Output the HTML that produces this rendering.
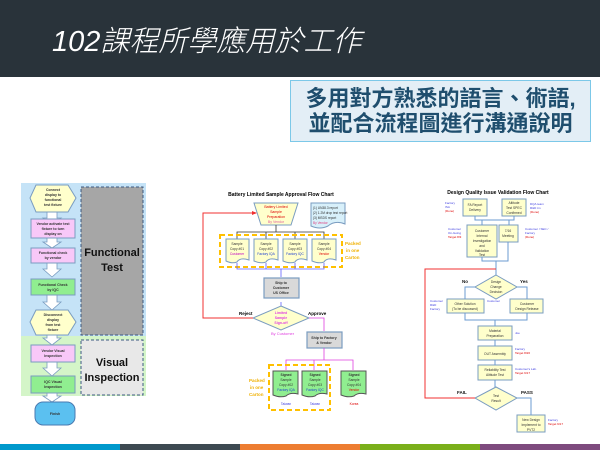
<!DOCTYPE html>
<html><head><meta charset="utf-8"><style>
body{margin:0;width:600px;height:450px;overflow:hidden;background:#fff;position:relative;font-family:"Liberation Sans","Noto Sans CJK TC",sans-serif}
.hdr{position:absolute;left:0;top:0;width:600px;height:77px;background:#29333a}
.title{position:absolute;left:52px;top:18px;color:#fff;font-size:29px;font-style:italic;font-family:"Liberation Sans","Noto Sans CJK TC",sans-serif;font-weight:300;white-space:nowrap}
.call{position:absolute;left:290px;top:80px;width:301px;height:62px;background:#e3eef6;border:1px solid #7cc8e8;box-sizing:border-box;color:#1f4e6e;font-weight:bold;font-size:22px;line-height:25px;text-align:center;padding-top:5px;font-family:"Liberation Sans","Noto Sans CJK TC",sans-serif;white-space:nowrap}
svg{position:absolute;left:0;top:0}
</style></head><body>
<div class="hdr"></div>
<div class="title">102課程所學應用於工作</div>
<div class="call">多用對方熟悉的語言、術語,<br>並配合流程圖進行溝通說明</div>
<svg width="600" height="450" font-family="Liberation Sans, sans-serif">
<rect x="0" y="444" width="120" height="6" fill="#0099cc"/>
<rect x="120" y="444" width="120" height="6" fill="#3d4a52"/>
<rect x="240" y="444" width="120" height="6" fill="#ed7d31"/>
<rect x="360" y="444" width="120" height="6" fill="#7aaf1a"/>
<rect x="480" y="444" width="120" height="6" fill="#7e4b7e"/>

<rect x="21" y="183" width="125" height="153" fill="#c5e3f7"/>
<rect x="21" y="336" width="125" height="60" fill="#d4f5c8"/>
<rect x="81" y="187" width="62" height="148" fill="#a6a6a6" stroke="#3d5a80" stroke-dasharray="3,2"/>
<rect x="81" y="340" width="62" height="55" fill="#e8e8e8" stroke="#3d5a80" stroke-dasharray="3,2"/>
<text x="112" y="256" font-size="11" font-weight="bold" text-anchor="middle" fill="#111">Functional</text>
<text x="112" y="271" font-size="11" font-weight="bold" text-anchor="middle" fill="#111">Test</text>
<text x="112" y="366" font-size="11" font-weight="bold" text-anchor="middle" fill="#111">Visual</text>
<text x="112" y="381" font-size="11" font-weight="bold" text-anchor="middle" fill="#111">Inspection</text>
<g fill="#fff" stroke="#7a9cc0" stroke-width="0.8">
<polygon points="47,212 57,212 57,218 61,218 52,224 43,218 47,218"/>
<polygon points="47,238 57,238 57,242 61,242 52,248 43,242 47,242"/>
<polygon points="47,263 57,263 57,269 61,269 52,277 43,269 47,269"/>
<polygon points="47,295 57,295 57,302 61,302 52,310 43,302 47,302"/>
<polygon points="47,335 57,335 57,338 61,338 52,345 43,338 47,338"/>
<polygon points="47,362 57,362 57,368 61,368 52,376 43,368 47,368"/>
<polygon points="47,393 57,393 57,396 61,396 52,402 43,396 47,396"/>
</g>
<polygon points="36,185 68,185 76,198 68,212 36,212 30,198" fill="#ffffcc" stroke="#7a9cc0"/>
<rect x="31" y="219" width="44" height="19" fill="#f8c8f8" stroke="#7a9cc0"/>
<rect x="31" y="248" width="44" height="15" fill="#f8c8f8" stroke="#7a9cc0"/>
<rect x="31" y="279" width="44" height="16" fill="#90ee90" stroke="#7a9cc0"/>
<polygon points="36,310 68,310 76,322 68,335 36,335 30,322" fill="#ffffcc" stroke="#7a9cc0"/>
<rect x="31" y="345" width="44" height="17" fill="#f8c8f8" stroke="#7a9cc0"/>
<rect x="31" y="376" width="44" height="17" fill="#90ee90" stroke="#7a9cc0"/>
<rect x="35" y="402" width="40" height="23" rx="8" fill="#5bc0f0" stroke="#4a7ab0"/>
<g font-size="3.5" font-weight="bold" text-anchor="middle" fill="#333">
<text x="53" y="191">Connect</text><text x="53" y="196">display to</text><text x="53" y="201">functional</text><text x="53" y="206">test fixture</text>
<text x="53" y="225">Vendor activate test</text><text x="53" y="230">fixture to turn</text><text x="53" y="235">display on</text>
<text x="53" y="254">Functional check</text><text x="53" y="259">by vendor</text>
<text x="53" y="286">Functional Check</text><text x="53" y="291">by IQC</text>
<text x="53" y="316">Disconnect</text><text x="53" y="321">display</text><text x="53" y="326">from test</text><text x="53" y="331">fixture</text>
<text x="53" y="352">Vendor Visual</text><text x="53" y="357">Inspection</text>
<text x="53" y="383">IQC Visual</text><text x="53" y="388">Inspection</text>
<text x="55" y="415">Finish</text>
</g>

<text x="281" y="196" font-size="5" font-weight="bold" text-anchor="middle">Battery Limited Sample Approval Flow Chart</text>
<polygon points="254,203 298,203 291,225 261,225" fill="#ffffcc" stroke="#7a9cc0"/>
<g font-size="3.5" text-anchor="middle"><text x="276" y="208" fill="#d00">Battery Limited</text><text x="276" y="213" fill="#d00">Sample</text><text x="276" y="218" fill="#d00">Preparation</text><text x="276" y="223" fill="#e060a0">By Vendor</text></g>
<path d="M311,203 H345 V224 Q335,220 328,226 Q320,230 311,226 Z" fill="#d8f0fa" stroke="#7a9cc0"/>
<g font-size="3.2" fill="#333"><text x="313" y="209">(1) UN38.3 report</text><text x="313" y="214">(2) 1.2M drop test report</text><text x="313" y="219">(3) MSDS report</text><text x="313" y="224" fill="#e04080">By Vendor</text></g>
<g stroke="#333" stroke-width="0.8" fill="none"><path d="M276,225 V232 M237,239 V232 H324 V239 M266,232 V239 M295,232 V239"/></g>
<rect x="220" y="235" width="122" height="32" fill="none" stroke="#ffc000" stroke-width="2" stroke-dasharray="5,3"/>
<g fill="#ffffcc" stroke="#7a9cc0">
<path d="M226,239 H249 V260 Q240,257 237,262 Q232,264 226,261 Z"/>
<path d="M254,239 H278 V260 Q269,257 266,262 Q261,264 254,261 Z"/>
<path d="M283,239 H307 V260 Q298,257 295,262 Q290,264 283,261 Z"/>
<path d="M312,239 H336 V260 Q327,257 324,262 Q319,264 312,261 Z"/>
</g>
<g font-size="3.3" text-anchor="middle" fill="#333">
<text x="237" y="245">Sample</text><text x="237" y="250">Copy #01</text><text x="237" y="255" fill="#c000c0">Customer</text>
<text x="266" y="245">Sample</text><text x="266" y="250">Copy #02</text><text x="266" y="255" fill="#2040d0">Factory IQA</text>
<text x="295" y="245">Sample</text><text x="295" y="250">Copy #03</text><text x="295" y="255" fill="#2040d0">Factory IQC</text>
<text x="324" y="245">Sample</text><text x="324" y="250">Copy #04</text><text x="324" y="255" fill="#d00">Vendor</text>
</g>
<g font-size="4.5" font-weight="bold" fill="#f0b000"><text x="345" y="245">Packed</text><text x="346" y="252">in one</text><text x="345" y="259">Carton</text></g>
<g stroke="#6060ff" stroke-width="0.8" fill="none"><path d="M237,263 V269 H324 V263 M266,263 V269 M295,263 V269 M281,269 V277"/><path d="M281,302 V306"/></g>
<rect x="264" y="278" width="35" height="20" fill="#d9d9d9" stroke="#7a9cc0" stroke-width="1.2"/>
<g font-size="3.5" font-weight="bold" text-anchor="middle" fill="#333"><text x="281" y="284">Ship to</text><text x="281" y="289">Customer</text><text x="281" y="294">US Office</text></g>
<polygon points="281,306 309,318 281,330 253,318" fill="#ffffcc" stroke="#7a9cc0"/>
<g font-size="3.5" font-weight="bold" text-anchor="middle" fill="#e040e0"><text x="281" y="314">Limited</text><text x="281" y="319">Sample</text><text x="281" y="324">Sign-off</text></g>
<text x="271" y="335" font-size="4" fill="#e040e0">By Customer</text>
<text x="239" y="315" font-size="4.5" font-weight="bold">Reject</text>
<text x="308" y="315" font-size="4.5" font-weight="bold">Approve</text>
<path d="M253,318 H203 V213 H255" fill="none" stroke="#f03030" stroke-width="1"/>
<polygon points="257,213 252,211 252,215" fill="#f03030"/>
<path d="M309,318 H324 V331" fill="none" stroke="#e040e0" stroke-width="0.8"/>
<rect x="307" y="332" width="35" height="16" fill="#d9d9d9" stroke="#7a9cc0" stroke-width="1.2"/>
<g font-size="3.5" font-weight="bold" text-anchor="middle" fill="#333"><text x="324" y="339">Ship to Factory</text><text x="324" y="344">&amp; Vendor</text></g>
<path d="M324,348 V360 M286,370 V360 H353 V370 M314,360 V370" fill="none" stroke="#e040e0" stroke-width="0.8"/>
<rect x="269" y="365" width="61" height="45" fill="none" stroke="#ffc000" stroke-width="2" stroke-dasharray="5,3"/>
<g fill="#90ee90" stroke="#555">
<path d="M273,371 H298 V394 Q290,392 286,396 Q280,398 273,395 Z"/>
<path d="M302,371 H327 V394 Q319,392 315,396 Q309,398 302,395 Z"/>
<path d="M341,371 H366 V394 Q358,392 354,396 Q348,398 341,395 Z"/>
</g>
<g font-size="3.3" text-anchor="middle" fill="#333">
<text x="286" y="376" font-weight="bold">Signed</text><text x="286" y="381">Sample</text><text x="286" y="386">Copy #02</text><text x="286" y="391" fill="#2040d0">Factory IQA</text>
<text x="315" y="376" font-weight="bold">Signed</text><text x="315" y="381">Sample</text><text x="315" y="386">Copy #03</text><text x="315" y="391" fill="#2040d0">Factory IQC</text>
<text x="354" y="376" font-weight="bold">Signed</text><text x="354" y="381">Sample</text><text x="354" y="386">Copy #04</text><text x="354" y="391" fill="#d00">Vendor</text>
<text x="286" y="405" fill="#4040e0">Taiwan</text><text x="315" y="405" fill="#4040e0">Taiwan</text><text x="354" y="405" fill="#d00">Korea</text>
</g>
<g font-size="4.5" font-weight="bold" fill="#f0b000"><text x="249" y="382">Packed</text><text x="250" y="389">in one</text><text x="249" y="396">Carton</text></g>

<text x="498" y="194" font-size="5" font-weight="bold" text-anchor="middle">Design Quality Issue Validation Flow Chart</text>
<g fill="#ffffcc" stroke="#7a9cc0" stroke-width="1">
<rect x="463" y="199" width="24" height="17"/><rect x="502" y="199" width="24" height="17"/>
<rect x="467" y="225" width="30" height="32"/><rect x="499" y="225" width="19" height="17"/>
<rect x="447" y="299" width="37" height="14"/><rect x="510" y="299" width="33" height="14"/>
<rect x="478" y="326" width="34" height="14"/><rect x="478" y="346" width="34" height="14"/><rect x="478" y="365" width="34" height="15"/>
<rect x="517" y="415" width="28" height="17"/>
<polygon points="496,275 517,287 496,299 475,287"/>
<polygon points="496,387 517,398 496,410 475,398"/>
</g>
<g stroke="#6b9bd1" stroke-width="1" fill="none">
<path d="M475,216 V220 H514 V216 M482,220 V225 M509,220 V225"/>
<path d="M482,257 V261 H496 M508,242 V261 H496 V275"/>
<path d="M475,287 H465 V299 M517,287 H527 V299 M465,313 V320 H527 V313 M495,320 V326 M495,340 V346 M495,360 V365 M495,380 V387 M517,398 H531 V415"/>
</g>
<path d="M475,398 H425 V269 H496" fill="none" stroke="#f03030" stroke-width="1"/>
<g font-size="3.3" text-anchor="middle" fill="#333">
<text x="475" y="206">FA Report</text><text x="475" y="211">Delivery</text>
<text x="514" y="204">Altitude</text><text x="514" y="209">Test SPEC</text><text x="514" y="214">Confirmed</text>
<text x="482" y="232">Customer</text><text x="482" y="237">Internal</text><text x="482" y="242">Investigation</text><text x="482" y="247">and</text><text x="482" y="252">Validation</text><text x="482" y="256">Test</text>
<text x="508" y="232">7/16</text><text x="508" y="237">Meeting</text>
<text x="496" y="283">Design</text><text x="496" y="288">Change</text><text x="496" y="293">Decision</text>
<text x="465" y="305">Other Solution</text><text x="465" y="310">(To be discussed)</text>
<text x="527" y="305">Customer</text><text x="527" y="310">Design Release</text>
<text x="495" y="332">Material</text><text x="495" y="337">Preparation</text>
<text x="495" y="355">OUT Assembly</text>
<text x="495" y="371">Reliability Test</text><text x="495" y="376">Altitude Test</text>
<text x="496" y="397">Test</text><text x="496" y="402">Result</text>
<text x="531" y="421">New Design</text><text x="531" y="426">Implement to</text><text x="531" y="431">PVT2</text>
</g>
<g font-size="3" fill="#4040e0">
<text x="445" y="204">Factory</text><text x="445" y="208">ISA</text><text x="445" y="212" fill="#d00">(Done)</text>
<text x="530" y="205">DQA team</text><text x="530" y="209">R&amp;D tm</text><text x="530" y="213" fill="#d00">(Done)</text>
<text x="448" y="230">Customer</text><text x="448" y="234">On-Going</text><text x="448" y="238" fill="#d00">Target 8/3</text>
<text x="525" y="230">Customer / SEC /</text><text x="525" y="234">Factory</text><text x="525" y="238" fill="#d00">(Done)</text>
<text x="430" y="302">Customer</text><text x="430" y="306">R&amp;D</text><text x="430" y="310">Factory</text>
<text x="487" y="302">Customer</text>
<text x="515" y="334">Joe</text>
<text x="515" y="350">Factory</text><text x="515" y="354" fill="#d00">Target 8/26</text>
<text x="515" y="370">Customer's Lab.</text><text x="515" y="374" fill="#d00">Target 9/17</text>
<text x="548" y="421">Factory</text><text x="548" y="425" fill="#d00">Target 9/17</text>
</g>
<g font-size="4.5" font-weight="bold" fill="#111">
<text x="462" y="283">No</text><text x="520" y="283">Yes</text>
<text x="457" y="394">FAIL</text><text x="521" y="394">PASS</text>
</g>
</svg>
</body></html>
